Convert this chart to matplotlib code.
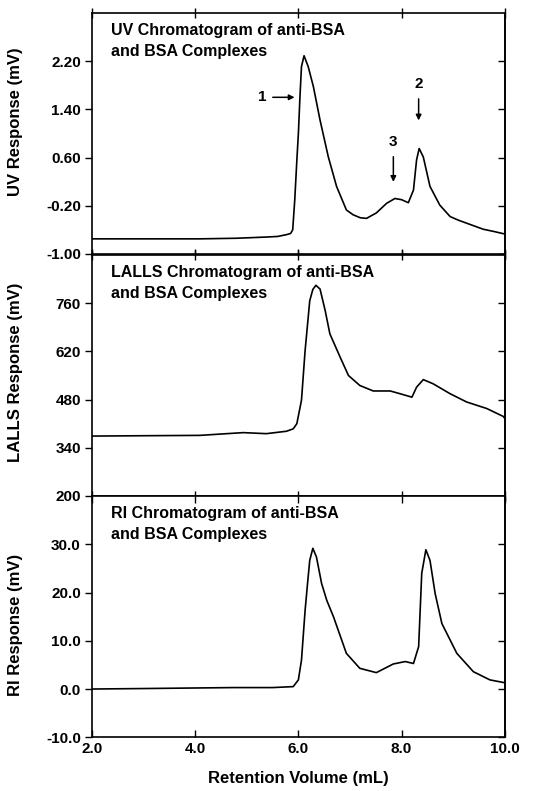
"""
Stacked UV / LALLS / RI chromatograms of anti-BSA and BSA complexes
"""
import matplotlib
matplotlib.use('Agg')
import matplotlib.pyplot as plt

plt.rcParams['font.family'] = ['Liberation Sans', 'DejaVu Sans']
plt.rcParams['font.weight'] = 'bold'

# UV trace (retention volume mL, response mV)
uv_x = [2.0, 3.0, 4.09, 4.8, 5.38, 5.6, 5.77, 5.85, 5.89, 5.93, 5.97, 6.00, 6.03, 6.06, 6.11,
        6.19, 6.29, 6.42, 6.58, 6.74, 6.93, 7.06, 7.20, 7.32, 7.51, 7.71, 7.87, 8.00,
        8.13, 8.23, 8.29, 8.34, 8.42, 8.55, 8.74, 8.94, 9.10, 9.26, 9.58, 9.80, 10.0]
uv_y = [-0.75, -0.75, -0.75, -0.74, -0.72, -0.71, -0.68, -0.66, -0.60, -0.10, 0.55, 1.00, 1.60, 2.11, 2.29,
        2.11, 1.78, 1.22, 0.61, 0.12, -0.27, -0.35, -0.40, -0.41, -0.32, -0.16, -0.08, -0.10,
        -0.15, 0.06, 0.56, 0.75, 0.61, 0.12, -0.19, -0.38, -0.44, -0.49, -0.59, -0.63, -0.67]

# LALLS trace
lalls_x = [2.0, 3.0, 4.09, 4.93, 5.38, 5.77, 5.90, 5.97, 6.06, 6.13, 6.22, 6.28, 6.34, 6.42,
           6.52, 6.61, 6.81, 6.97, 7.19, 7.45, 7.78, 7.97, 8.20, 8.29, 8.42, 8.61, 8.94,
           9.26, 9.65, 9.97, 10.0]
lalls_y = [374, 375, 376, 384, 381, 388, 395, 410, 478, 622, 767, 800, 812, 801,
           738, 671, 603, 550, 521, 505, 505, 497, 487, 516, 538, 526, 497,
           473, 454, 431, 425]

# RI trace
ri_x = [2.0, 3.0, 4.74, 5.5, 5.90, 6.00, 6.06, 6.13, 6.18, 6.22, 6.28, 6.35, 6.45, 6.55,
        6.68, 6.93, 7.19, 7.51, 7.84, 8.07, 8.23, 8.33, 8.39, 8.47, 8.55, 8.65, 8.78,
        9.07, 9.39, 9.71, 10.0]
ri_y = [0.0, 0.1, 0.3, 0.3, 0.5, 1.9, 6.0, 16.3, 22.2, 26.7, 29.2, 27.4, 21.9, 18.4,
        15.0, 7.4, 4.3, 3.4, 5.2, 5.7, 5.3, 8.8, 24.0, 28.9, 26.7, 19.8, 13.6,
        7.4, 3.6, 1.9, 1.3]

x_ticks = [2.0, 4.0, 6.0, 8.0, 10.0]
uv_ticks = [-1.0, -0.2, 0.6, 1.4, 2.2]
lalls_ticks = [200, 340, 480, 620, 760]
ri_ticks = [-10.0, 0.0, 10.0, 20.0, 30.0]

fig = plt.figure(figsize=(5.44, 7.91), dpi=100)
left, width = 0.169, 0.759
bottoms = [0.679, 0.373, 0.068]
height = 0.3046
axes = [fig.add_axes([left, b, width, height]) for b in bottoms]

panels = [
    (uv_x, uv_y, (-1.0, 3.0), uv_ticks, '{:.2f}', 'UV Response (mV)', 0.548,
     'UV Chromatogram of anti-BSA\nand BSA Complexes'),
    (lalls_x, lalls_y, (200, 900), lalls_ticks, '{:.0f}', 'LALLS Response (mV)', 0.512,
     'LALLS Chromatogram of anti-BSA\nand BSA Complexes'),
    (ri_x, ri_y, (-10.0, 40.0), ri_ticks, '{:.1f}', 'RI Response (mV)', 0.465,
     'RI Chromatogram of anti-BSA\nand BSA Complexes'),
]

for ax, (xs, ys, ylim, yt, fmt, ylabel, ly, title) in zip(axes, panels):
    ax.plot(xs, ys, color='black', linewidth=1.2)
    ax.set_xlim(2.0, 10.0)
    ax.set_ylim(*ylim)
    ax.set_xticks(x_ticks)
    ax.set_yticks(yt)
    ax.set_yticklabels([fmt.format(v) for v in yt], fontsize=11, fontweight='bold')
    ax.tick_params(axis='x', direction='inout', top=True, length=7, width=1)
    ax.tick_params(axis='y', direction='out', length=5, width=1, pad=3)
    right = ax.secondary_yaxis('right')
    right.set_yticks(yt)
    right.tick_params(direction='in', length=5, width=1, labelright=False)
    right.spines['right'].set_linewidth(1.2)
    ax.set_ylabel(ylabel, fontsize=12, fontweight='bold')
    ax.yaxis.set_label_coords(-0.167, ly)
    for s in ax.spines.values():
        s.set_linewidth(1.2)
    ax.text(0.045, 0.96, title, transform=ax.transAxes, fontsize=11.5,
            fontweight='bold', va='top', ha='left', linespacing=1.5)

for ax in axes[:2]:
    ax.tick_params(labelbottom=False)

axes[2].tick_params(axis='x', direction='in', length=5)
axes[2].set_xticklabels(['{:.1f}'.format(v) for v in x_ticks], fontsize=11, fontweight='bold')
axes[2].set_xlabel('Retention Volume (mL)', fontsize=12, fontweight='bold', labelpad=11)

# peak markers on the UV trace
uv = axes[0]
arrow = dict(arrowstyle='-|>', color='black', lw=1.1, mutation_scale=8)
uv.annotate('', xy=(5.98, 1.60), xytext=(5.45, 1.60), arrowprops=arrow)
uv.text(5.3, 1.60, '1', fontsize=11, fontweight='bold', ha='center', va='center')
uv.annotate('', xy=(8.33, 1.17), xytext=(8.33, 1.62), arrowprops=arrow)
uv.text(8.33, 1.82, '2', fontsize=11, fontweight='bold', ha='center', va='center')
uv.annotate('', xy=(7.84, 0.15), xytext=(7.84, 0.66), arrowprops=arrow)
uv.text(7.84, 0.86, '3', fontsize=11, fontweight='bold', ha='center', va='center')

plt.savefig('out.png', dpi=100)
